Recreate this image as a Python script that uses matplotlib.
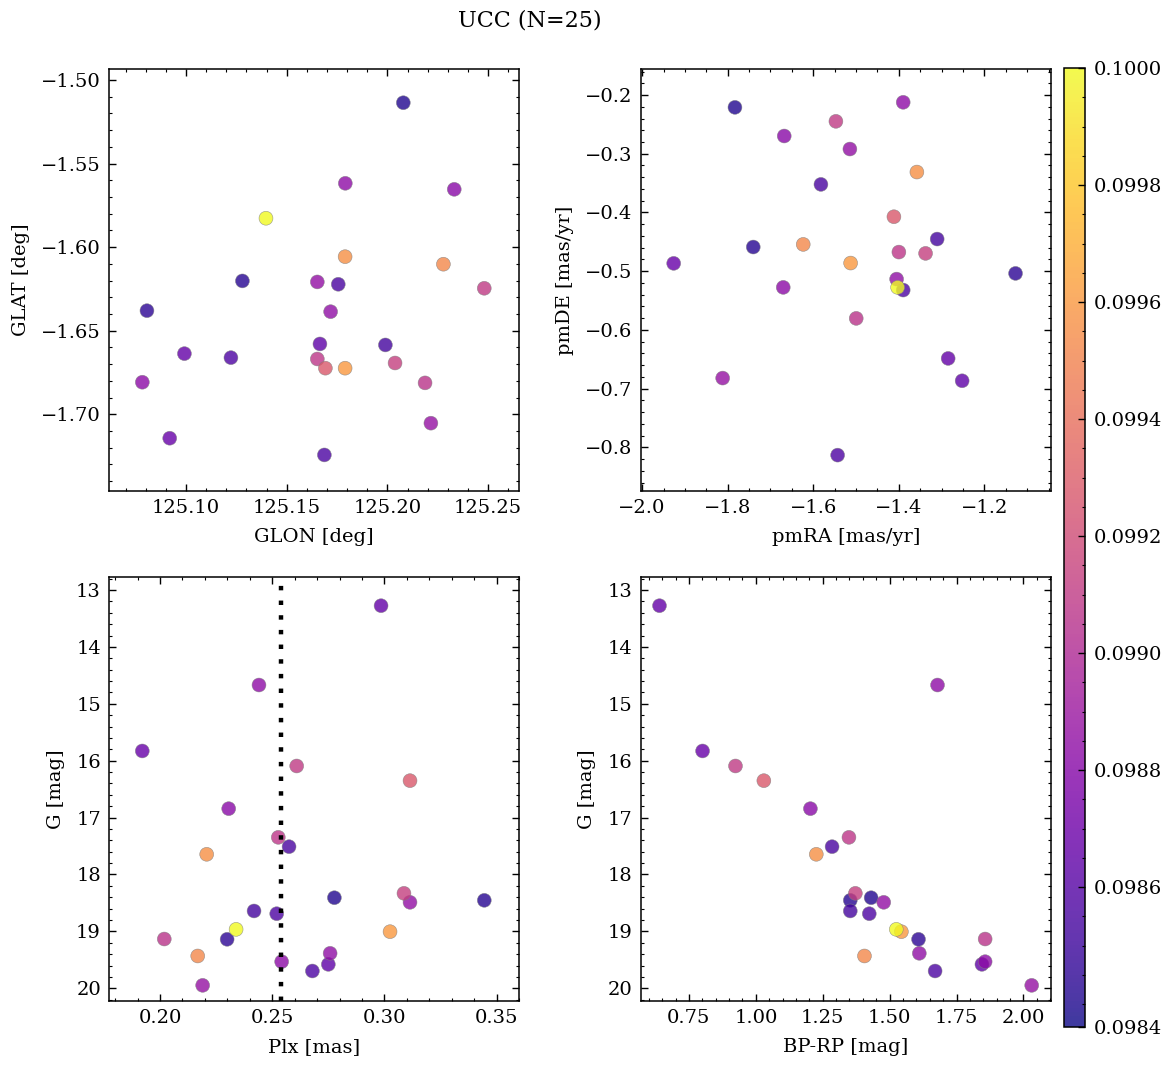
import numpy as np
import matplotlib
matplotlib.use('Agg')
import matplotlib.pyplot as plt
from matplotlib.ticker import AutoMinorLocator, MultipleLocator, FormatStrFormatter

# member data (25 stars)
glon = [125.0992, 125.1791, 125.0919, 125.2481, 125.1692, 125.2332, 125.1652, 125.1756, 125.1790, 125.2038,
        125.1652, 125.2079, 125.1280, 125.1990, 125.1223, 125.1397, 125.1790, 125.2187, 125.0806, 125.2278,
        125.1718, 125.0783, 125.1665, 125.1687, 125.2216]
glat = [-1.6637, -1.5618, -1.7143, -1.6246, -1.6724, -1.5654, -1.6669, -1.6222, -1.6057, -1.6693,
        -1.6208, -1.5136, -1.6202, -1.6585, -1.6661, -1.5827, -1.6724, -1.6812, -1.6380, -1.6102,
        -1.6386, -1.6808, -1.6579, -1.7243, -1.7053]
pmra = [-1.2846, -1.3897, -1.9262, -1.5470, -1.4114, -1.6678, -1.3998, -1.5820, -1.3577, -1.3374,
        -1.5143, -1.7830, -1.7402, -1.3103, -1.5430, -1.4028, -1.5126, -1.4995, -1.1271, -1.6234,
        -1.4051, -1.6701, -1.2519, -1.3897, -1.8117]
pmde = [-0.6486, -0.2124, -0.4867, -0.2448, -0.4073, -0.2698, -0.4675, -0.3522, -0.3312, -0.4697,
        -0.2920, -0.2210, -0.4589, -0.4453, -0.8133, -0.5276, -0.4862, -0.5804, -0.5038, -0.4544,
        -0.5135, -0.5276, -0.6867, -0.5322, -0.6821]
plx = [0.2985, 0.2441, 0.1921, 0.2609, 0.3114, 0.2306, 0.2527, 0.2575, 0.2208, 0.3087,
       0.3114, 0.2777, 0.3445, 0.2419, 0.2520, 0.2339, 0.3025, 0.2019, 0.2299, 0.2168,
       0.2758, 0.2542, 0.2750, 0.2679, 0.2190]
gmag = [13.276, 14.670, 15.829, 16.093, 16.351, 16.843, 17.347, 17.511, 17.645, 18.331,
        18.489, 18.408, 18.454, 18.641, 18.689, 18.964, 19.005, 19.134, 19.139, 19.432,
        19.385, 19.532, 19.579, 19.696, 19.948]
bprp = [0.640, 1.679, 0.801, 0.924, 1.030, 1.204, 1.348, 1.285, 1.226, 1.372,
        1.478, 1.431, 1.353, 1.353, 1.424, 1.525, 1.544, 1.857, 1.608, 1.406,
        1.611, 1.857, 1.845, 1.670, 2.031]
prob = [0.09866, 0.09884, 0.09868, 0.09910, 0.09928, 0.09882, 0.09908, 0.09855, 0.09956, 0.09913,
        0.09886, 0.09841, 0.09843, 0.09853, 0.09857, 0.10000, 0.09960, 0.09906, 0.09845, 0.09952,
        0.09885, 0.09883, 0.09864, 0.09856, 0.09887]

# colour scale range and colorbar ticks
prob_min, prob_max = 0.098361, 0.1000
cbar_ticks = [0.098361, 0.0986, 0.0988, 0.0990, 0.0992, 0.0994, 0.0996, 0.0998, 0.1000]

plx_line = 0.254
title = 'UCC (N=25)'

plt.rcParams['font.family'] = 'serif'
plt.rcParams['font.serif'] = ['DejaVu Serif']
plt.rcParams['font.size'] = 14
plt.rcParams['axes.linewidth'] = 1.1
plt.rcParams['xtick.direction'] = 'in'
plt.rcParams['ytick.direction'] = 'in'
plt.rcParams['xtick.top'] = True
plt.rcParams['ytick.right'] = True
plt.rcParams['xtick.major.size'] = 5
plt.rcParams['ytick.major.size'] = 5
plt.rcParams['xtick.minor.size'] = 2.5
plt.rcParams['ytick.minor.size'] = 2.5
plt.rcParams['xtick.major.width'] = 1.0
plt.rcParams['ytick.major.width'] = 1.0
plt.rcParams['xtick.minor.width'] = 0.8
plt.rcParams['ytick.minor.width'] = 0.8
plt.rcParams['xtick.major.pad'] = 6
plt.rcParams['ytick.major.pad'] = 6

W, H = 1173, 1067
fig = plt.figure(figsize=(W / 100, H / 100), dpi=100)

# axes boxes (pixels: left, top, right, bottom)
def box(l, t, r, b):
    return [l / W, (H - b) / H, (r - l) / W, (b - t) / H]

ax1 = fig.add_axes(box(109.3, 69.3, 519.3, 490.7))
ax2 = fig.add_axes(box(640.7, 69.3, 1050.7, 490.7))
ax3 = fig.add_axes(box(109.3, 577.3, 519.3, 1000.7))
ax4 = fig.add_axes(box(640.7, 577.3, 1050.7, 1000.7))
cax = fig.add_axes(box(1064.3, 68, 1085.3, 1027))

# draw highest values on top
order = np.argsort(prob)
c = np.array(prob)[order]
kw = dict(c=c, cmap='plasma', vmin=prob_min, vmax=prob_max, s=100, alpha=0.8,
          edgecolors='gray', linewidths=0.4)

ax1.scatter(np.array(glon)[order], np.array(glat)[order], **kw)
ax1.set_xlim(125.0619, 125.2655)
ax1.set_ylim(-1.7457, -1.4936)
ax1.set_xlabel('GLON [deg]')
ax1.set_ylabel('GLAT [deg]')

ax2.scatter(np.array(pmra)[order], np.array(pmde)[order], **kw)
ax2.set_xlim(-2.0033, -1.0449)
ax2.set_ylim(-0.8739, -0.1562)
ax2.set_xlabel('pmRA [mas/yr]')
ax2.set_ylabel('pmDE [mas/yr]')

ax3.scatter(np.array(plx)[order], np.array(gmag)[order], **kw)
ax3.axvline(plx_line, color='black', lw=3.2, ls=(0, (1, 2.3)), zorder=5)
ax3.set_xlim(0.1774, 0.3601)
ax3.set_ylim(20.218, 12.777)
ax3.set_xlabel('Plx [mas]')
ax3.set_ylabel('G [mag]')

sc = ax4.scatter(np.array(bprp)[order], np.array(gmag)[order], **kw)
ax4.set_xlim(0.5698, 2.102)
ax4.set_ylim(20.218, 12.777)
ax4.set_xlabel('BP-RP [mag]')
ax4.set_ylabel('G [mag]')

ax1.xaxis.set_major_locator(MultipleLocator(0.05))
ax1.yaxis.set_major_locator(MultipleLocator(0.05))
ax2.xaxis.set_major_locator(MultipleLocator(0.2))
ax2.yaxis.set_major_locator(MultipleLocator(0.1))
ax3.xaxis.set_major_locator(MultipleLocator(0.05))
ax4.xaxis.set_major_locator(MultipleLocator(0.25))
for ax in [ax3, ax4]:
    ax.yaxis.set_major_locator(MultipleLocator(1))

for ax in [ax1, ax2, ax3, ax4]:
    ax.xaxis.set_minor_locator(AutoMinorLocator())
    ax.yaxis.set_minor_locator(AutoMinorLocator())
    ax.xaxis.labelpad = 8
    ax.yaxis.labelpad = 8

# colorbar
cb = fig.colorbar(sc, cax=cax)
cb.set_ticks(cbar_ticks)
cb.ax.yaxis.set_major_formatter(FormatStrFormatter('%.4f'))
cb.ax.yaxis.set_minor_locator(MultipleLocator(0.00005))
cb.ax.tick_params(which='both', direction='in', right=True, left=False)
cb.outline.set_linewidth(1.1)

fig.text(530 / W, 1 - 20 / H, title, ha='center', va='center', fontsize=16)

plt.savefig('out.png', dpi=100)
plt.close()
